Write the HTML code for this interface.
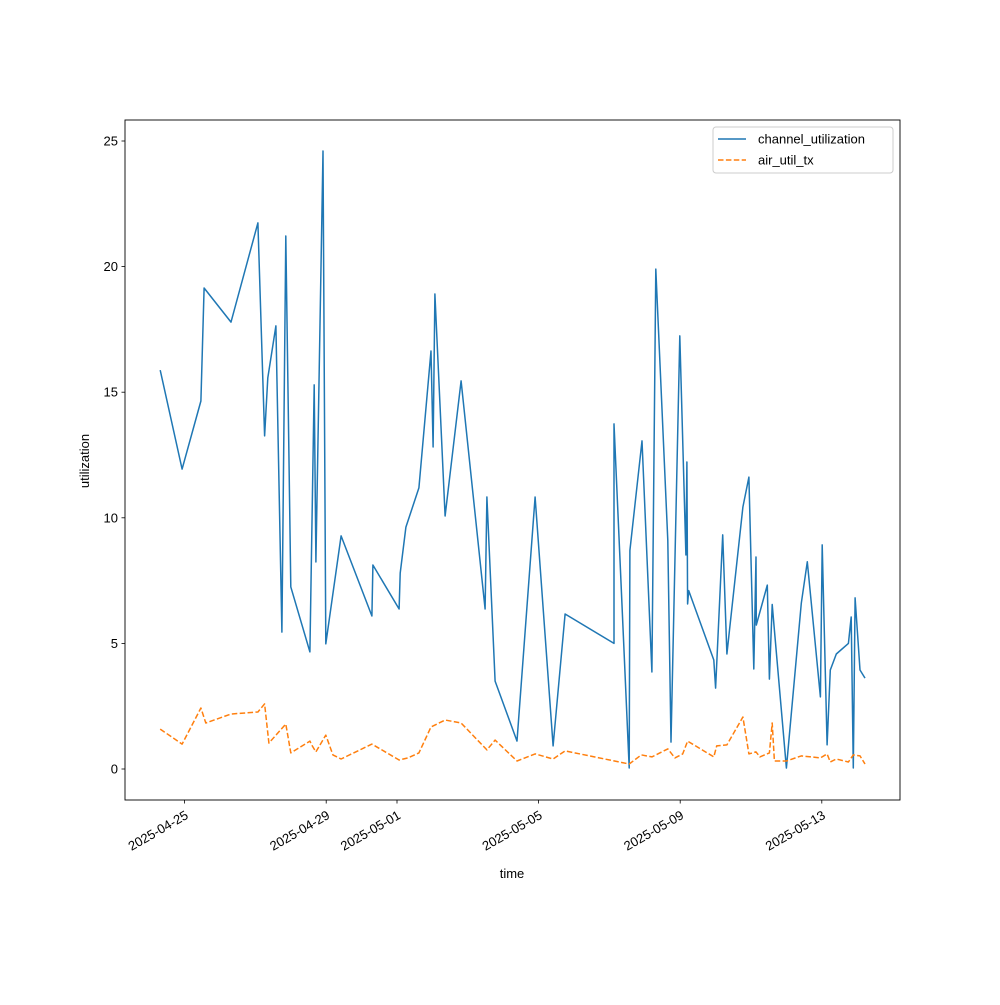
<!DOCTYPE html>
<html><head><meta charset="utf-8"><style>
body{margin:0;background:#fff;}
svg{font-family:"Liberation Sans",sans-serif;}
</style></head><body>
<svg id="chart" width="1000" height="1000" xmlns="http://www.w3.org/2000/svg">
<rect width="1000" height="1000" fill="#fff"/>
<g id="plot"></g>
</svg>
<script>
const chanDays=[-0.69,-0.07,0.46,0.55,1.31,2.07,2.26,2.35,2.58,2.75,2.86,3.0,3.54,3.66,3.71,3.91,3.99,4.42,5.29,5.32,6.06,6.09,6.25,6.62,6.96,7.02,7.07,7.36,7.81,8.49,8.54,8.77,9.39,9.9,10.41,10.75,12.13,12.13,12.56,12.58,12.92,13.2,13.31,13.65,13.74,13.99,14.16,14.19,14.21,14.24,14.95,15.0,15.2,15.32,15.77,15.94,16.08,16.14,16.15,16.46,16.52,16.6,16.66,17.0,17.42,17.59,17.96,18.01,18.15,18.24,18.41,18.75,18.83,18.89,18.94,19.08,19.22];
const chanVals=[15.88,11.94,14.65,19.15,17.79,21.74,13.26,15.57,17.64,5.45,21.22,7.25,4.66,15.29,8.24,24.6,4.98,9.28,6.09,8.12,6.37,7.8,9.63,11.19,16.64,12.82,18.91,10.07,15.45,6.37,10.83,3.5,1.11,10.83,0.92,6.17,5.0,13.74,0.04,8.7,13.06,3.86,19.9,9.1,1.07,17.24,8.52,12.22,6.57,7.1,4.34,3.22,9.32,4.58,10.43,11.62,3.98,8.44,5.73,7.32,3.58,6.55,5.53,0.04,6.6,8.25,2.87,8.92,0.96,3.94,4.58,5.0,6.05,0.04,6.81,3.94,3.62];
const airDays=[-0.69,-0.07,0.46,0.6,1.31,2.07,2.26,2.38,2.86,3.0,3.54,3.59,3.71,3.99,4.19,4.42,5.29,6.06,6.31,6.62,6.96,7.36,7.81,8.54,8.77,9.39,9.9,10.41,10.75,12.56,12.9,13.2,13.65,13.85,14.07,14.21,14.95,15.03,15.32,15.77,15.94,16.14,16.25,16.52,16.6,16.66,17.0,17.42,17.96,18.15,18.24,18.41,18.75,18.89,19.08,19.22];
const airVals=[1.59,0.99,2.43,1.83,2.19,2.27,2.59,1.03,1.79,0.64,1.11,0.96,0.68,1.35,0.56,0.4,0.99,0.36,0.44,0.64,1.67,1.95,1.83,0.76,1.15,0.32,0.6,0.4,0.72,0.2,0.56,0.48,0.8,0.44,0.6,1.11,0.48,0.92,0.96,2.07,0.6,0.68,0.48,0.64,1.83,0.32,0.32,0.52,0.44,0.6,0.28,0.4,0.28,0.56,0.52,0.2];
const yTicks=[0,5,10,15,20,25];
const xTickDays=[0,4,6,10,14,18];
const xTickLabels=["2025-04-25","2025-04-29","2025-05-01","2025-05-05","2025-05-09","2025-05-13"];

const L=125,R=900,T=120,B=800;
const xs=d=>184.6+d*35.4;
const ys=v=>769-v*25.12;
const NS="http://www.w3.org/2000/svg";
const g=document.getElementById('plot');
function mk(tag,attrs){const e=document.createElementNS(NS,tag);for(const k in attrs)e.setAttribute(k,attrs[k]);g.appendChild(e);return e;}

function line(days,vals,color,dash,name){
  const p=mk('polyline',{points:days.map((d,i)=>xs(d).toFixed(1)+','+ys(vals[i]).toFixed(1)).join(' '),fill:'none',stroke:color,'stroke-width':1.5,'stroke-linejoin':'round'});
  if(dash)p.setAttribute('stroke-dasharray',dash);
  
  
}
line(chanDays,chanVals,'#1f77b4',null,'channel-utilization-line');
line(airDays,airVals,'#ff7f0e','5.5,2.4','air-util-tx-line');

const frame=mk('rect',{x:L,y:T,width:R-L,height:B-T,fill:'none',stroke:'#000','stroke-width':0.9});



yTicks.forEach(v=>{
  const y=ys(v);
  const t=mk('line',{x1:L-3.5,x2:L,y1:y,y2:y,stroke:'#000','stroke-width':0.8});
  
  
  const tx=mk('text',{x:L-7,y:y+4.5,'text-anchor':'end','font-size':13});
  tx.textContent=v;
  
  
});
xTickDays.forEach((d,i)=>{
  const x=xs(d);
  const t=mk('line',{x1:x,x2:x,y1:B,y2:B+3.5,stroke:'#000','stroke-width':0.8});
  
  
  const tx=mk('text',{x:x,y:B+10,'text-anchor':'end','font-size':13,transform:`rotate(-30 ${x} ${B+10}) translate(0 9)`});
  tx.textContent=xTickLabels[i];
  
  
});
const xt=mk('text',{x:512,y:878,'text-anchor':'middle','font-size':13});
xt.textContent='time';


const yt=mk('text',{x:89,y:461,'text-anchor':'middle','font-size':13,transform:'rotate(-90 89 461)'});
yt.textContent='utilization';



const lg=mk('rect',{x:713,y:127,width:180,height:46,rx:3,fill:'#fff',stroke:'#ccc','stroke-width':1});


[['channel_utilization','#1f77b4',null,139],['air_util_tx','#ff7f0e','5.5,2.4',160]].forEach(([lab,c,dash,y])=>{
  const l=mk('line',{x1:718,x2:746,y1:y,y2:y,stroke:c,'stroke-width':1.5});
  if(dash)l.setAttribute('stroke-dasharray',dash);
  
  
  const t=mk('text',{x:758,y:y+4.5,'font-size':13});
  t.textContent=lab;
  
  
});
</script>
</body></html>
